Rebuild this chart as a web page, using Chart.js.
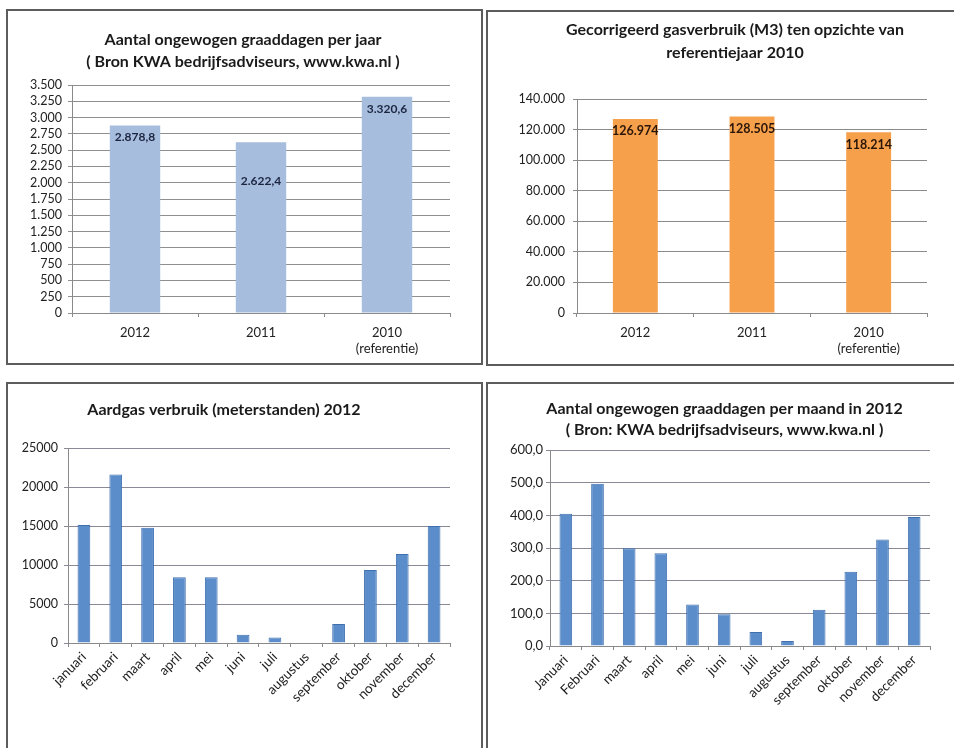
<!DOCTYPE html>
<html>
<head>
<meta charset="utf-8">
<script src="https://cdn.jsdelivr.net/npm/chart.js@4.4.0/dist/chart.umd.min.js"></script>
<style>
    html, body { margin: 0; padding: 0; background: #fff; width: 954px; height: 748px; overflow: hidden; position: relative; }
    .panel { position: absolute; border: 2px solid #5c5c5c; box-sizing: border-box; }
    canvas { position: absolute; }
</style>
</head>
<body>
<div class="panel" style="left:6px;top:9px;width:477px;height:356px"></div>
<div class="panel" style="left:486px;top:10px;width:480px;height:356px"></div>
<div class="panel" style="left:6px;top:382px;width:477px;height:400px"></div>
<div class="panel" style="left:486px;top:382px;width:480px;height:400px"></div>

<canvas id="yearDegreeDays" style="left:8px;top:11px" width="460" height="352"></canvas>
<canvas id="yearGas" style="left:488px;top:12px" width="466" height="352"></canvas>
<canvas id="monthGas" style="left:8px;top:384px" width="460" height="364"></canvas>
<canvas id="monthDegreeDays" style="left:488px;top:384px" width="466" height="364"></canvas>

<script>
// categories
const years = ['2012', '2011', ['2010', '(referentie)']];
const months = ['januari', 'februari', 'maart', 'april', 'mei', 'juni', 'juli', 'augustus', 'september', 'oktober', 'november', 'december'];
const monthsAlt = ['Januari', 'Februari', 'maart', 'april', 'mei', 'juni', 'juli', 'augustus', 'september', 'oktober', 'november', 'december'];

// series
const degreeDaysYear = [2878.8, 2622.4, 3320.6];
const gasCorrected = [126974, 128505, 118214];
const gasMonthly = [15120, 21590, 14780, 8430, 8430, 1070, 720, 0, 2430, 9370, 11410, 14990];
const degreeDaysMonth = [405, 497, 299, 284, 127, 97, 43, 15, 111, 227, 326, 395];

// axis ranges
const yearDegreeMax = 3500, yearDegreeStep = 250;
const yearGasMax = 140000, yearGasStep = 20000;
const monthGasMax = 25000, monthGasStep = 5000;
const monthDegreeMax = 600, monthDegreeStep = 100;

Chart.defaults.font.family = 'Lato';
Chart.defaults.color = '#222';

// dutch number format: 3.500 / 2.878,8
function nl(v, dec) {
    const parts = Number(v).toFixed(dec).split('.');
    const int = parts[0].replace(/\B(?=(\d{3})+(?!\d))/g, '.');
    return parts[1] ? int + ',' + parts[1] : int;
}

// value labels inside the bars
const barLabels = {
    id: 'barLabels',
    afterDatasetsDraw(chart, args, opts) {
        if (!opts.offsets) return;
        const ctx = chart.ctx;
        const values = chart.data.datasets[0].data;
        ctx.save();
        ctx.font = 'bold ' + opts.size + 'px Lato';
        ctx.fillStyle = opts.color;
        ctx.textAlign = 'center';
        ctx.textBaseline = 'middle';
        chart.getDatasetMeta(0).data.forEach((bar, i) => {
            ctx.fillText(nl(values[i], opts.dec), bar.x, bar.y + opts.offsets[i]);
        });
        ctx.restore();
    }
};

// the excel titles are not centred on the canvas, move the title box
const titleCenter = {
    id: 'titleCenter',
    afterLayout(chart, args, opts) {
        const t = chart.titleBlock;
        if (!t || opts.x === undefined) return;
        const half = (t.right - t.left) / 2;
        t.left = opts.x - half;
        t.right = opts.x + half;
    }
};

function barChart(id, labels, values, o) {
    return new Chart(document.getElementById(id), {
        type: 'bar',
        data: {
            labels: labels,
            datasets: [{
                data: values,
                backgroundColor: o.color,
                borderColor: o.border || o.color,
                borderWidth: o.border ? 1 : 0,
                barPercentage: o.barPct,
                categoryPercentage: 1
            }]
        },
        options: {
            responsive: false,
            animation: false,
            layout: { padding: o.pad },
            plugins: {
                legend: { display: false },
                tooltip: { enabled: false },
                title: {
                    display: true,
                    text: o.title,
                    color: '#1a1a1a',
                    font: { size: 16, weight: 'bold', lineHeight: o.titleLine / 16 },
                    padding: { top: o.titleTop, bottom: o.titleBottom }
                },
                titleCenter: { x: o.titleX },
                barLabels: o.labels || {}
            },
            scales: {
                x: {
                    grid: { offset: true, drawOnChartArea: false, tickLength: 4, color: '#8a8a8a' },
                    border: { color: '#8a8a8a' },
                    ticks: { font: { size: o.xSize }, padding: o.xPad, maxRotation: o.rot, minRotation: o.rot, autoSkip: false },
                    afterFit: s => { s.height = o.xH; }
                },
                y: {
                    min: 0,
                    max: o.max,
                    grid: { color: o.gridColor || '#8a8a8a', tickLength: 4 },
                    border: { color: '#8a8a8a' },
                    ticks: {
                        stepSize: o.step,
                        autoSkip: false,
                        font: { size: o.ySize },
                        padding: o.yPad,
                        callback: v => o.plain ? String(v) : nl(v, o.dec)
                    },
                    afterFit: s => { s.width = o.yW; }
                }
            }
        },
        plugins: [barLabels, titleCenter]
    });
}

barChart('yearDegreeDays', years, degreeDaysYear, {
    title: ['Aantal ongewogen graaddagen per jaar', '( Bron KWA bedrijfsadviseurs, www.kwa.nl )'],
    titleX: 235, titleLine: 22, titleTop: 18, titleBottom: 12,
    pad: { left: 0, right: 18, top: 0, bottom: 0 },
    xH: 50, xPad: 8, xSize: 13, rot: 0, yW: 64, yPad: 6, ySize: 12.5,
    max: yearDegreeMax, step: yearDegreeStep, dec: 0,
    color: '#A7BDDD', barPct: 0.4, gridColor: '#8f8f8f',
    labels: { offsets: [12, 39, 12], size: 12, color: '#1c2540', dec: 1 }
});

barChart('yearGas', years, gasCorrected, {
    title: ['Gecorrigeerd gasverbruik (M3) ten opzichte van', 'referentiejaar 2010'],
    titleX: 247, titleLine: 23, titleTop: 6.5, titleBottom: 34.5,
    pad: { left: 0, right: 27, top: 0, bottom: 0 },
    xH: 51, xPad: 8, xSize: 13, rot: 0, yW: 89, yPad: 8, ySize: 12.5,
    max: yearGasMax, step: yearGasStep, dec: 0,
    color: '#F6A04C', barPct: 0.385,
    labels: { offsets: [12, 12, 13], size: 12.5, color: '#2a1608', dec: 0 }
});

barChart('monthGas', months, gasMonthly, {
    title: 'Aardgas verbruik (meterstanden) 2012',
    titleX: 216, titleLine: 22, titleTop: 15, titleBottom: 27,
    pad: { left: 0, right: 18, top: 0, bottom: 0 },
    xH: 105, xPad: 2, xSize: 13.5, rot: 45, yW: 60, yPad: 6, ySize: 12.5,
    max: monthGasMax, step: monthGasStep, plain: true,
    color: '#5B8DCB', border: '#3F6FAE', barPct: 0.4, gridColor: '#8a8a96'
});

barChart('monthDegreeDays', monthsAlt, degreeDaysMonth, {
    title: ['Aantal ongewogen graaddagen per maand in 2012', '( Bron: KWA bedrijfsadviseurs, www.kwa.nl )'],
    titleX: 236.5, titleLine: 21, titleTop: 14.5, titleBottom: 9.5,
    pad: { left: 0, right: 24, top: 0, bottom: 0 },
    xH: 102, xPad: 2, xSize: 13.5, rot: 45, yW: 62, yPad: 3, ySize: 13,
    max: monthDegreeMax, step: monthDegreeStep, dec: 1,
    color: '#5B8DCB', border: '#3F6FAE', barPct: 0.4, gridColor: '#8a8a96'
});
</script>
</body>
</html>
